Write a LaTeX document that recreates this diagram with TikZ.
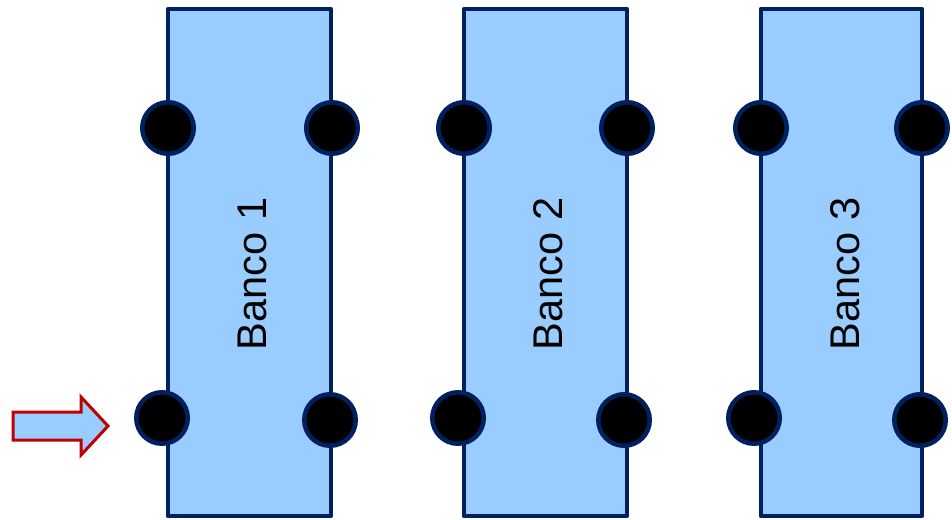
\documentclass[tikz,border=0pt]{standalone}
\usepackage{fontspec}
\setmainfont{Liberation Sans}
\definecolor{bankfill}{HTML}{99CCFF}
\definecolor{bankline}{HTML}{002060}
\definecolor{arrowred}{HTML}{C00000}
\begin{document}
\begin{tikzpicture}[x=1pt,y=-1pt,
  bank/.style={draw=bankline, fill=bankfill, line width=4.5pt, rectangle, minimum height=507pt, inner sep=0pt, line join=round},
  pin/.style={draw=bankline, fill=black, line width=4.5pt, circle, minimum size=51.5pt, inner sep=0pt},
  banklabel/.style={rotate=90, font=\fontsize{41.5}{48}\selectfont, inner sep=0pt}]
\useasboundingbox (0,0) rectangle (952,519);
\node[bank, minimum width=163pt] (b1) at (249.5,262.5) {};
\node[bank, minimum width=163pt] (b2) at (545.5,262.5) {};
\node[bank, minimum width=161pt] (b3) at (841.5,262.5) {};
\node[banklabel] (t1) at (252,274) {Banco 1};
\node[banklabel] (t2) at (548,274) {Banco 2};
\node[banklabel] (t3) at (845,274) {Banco 3};
\node[pin] (p1a) at (168,128) {};
\node[pin] (p1b) at (332,128) {};
\node[pin] (p1c) at (162,418) {};
\node[pin] (p1d) at (330,420) {};
\node[pin] (p2a) at (464,128) {};
\node[pin] (p2b) at (627,128) {};
\node[pin] (p2c) at (458,418) {};
\node[pin] (p2d) at (624,420) {};
\node[pin] (p3a) at (761,128) {};
\node[pin] (p3b) at (922,128) {};
\node[pin] (p3c) at (754,418) {};
\node[pin] (p3d) at (920,420) {};
\draw[draw=arrowred, fill=bankfill, line width=3pt, miter limit=10]
  (13,412) -- (81,412) -- (81,397) -- (108,426) -- (81,455) -- (81,440) -- (13,440) -- cycle;
\end{tikzpicture}
\end{document}
